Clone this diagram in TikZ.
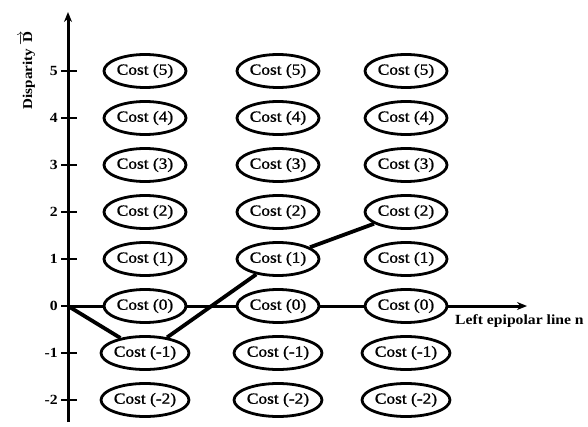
\documentclass[tikz,border=0pt]{standalone}
\usepackage{fontspec}
\setmainfont{Liberation Serif}[FakeStretch=1.12]
\newfontfamily\costfont{Liberation Serif}[FakeStretch=1.12,FakeBold=1.2]
\usetikzlibrary{shapes.geometric,arrows.meta}
\begin{document}
\begin{tikzpicture}[x=1pt,y=1pt,
  costnode/.style={draw,ellipse,line width=2.8pt,minimum width=82pt,minimum height=33pt,inner sep=0pt,font=\costfont\fontsize{15.5}{15.5}\selectfont},
  axisline/.style={line width=3pt},
  pathline/.style={line width=3.8pt},
  ticklab/.style={anchor=east,font=\bfseries\fontsize{14}{14}\selectfont,inner sep=1pt}]
\useasboundingbox (0,0) rectangle (588,426);
\def\xa{68}
% vertical axis
\coordinate (vbot) at (\xa,4);
\coordinate (vtop) at (\xa,414);
\draw[axisline,-{Stealth[length=10pt,width=8pt]}] (vbot) -- (vtop);
\node[rotate=90,font=\bfseries\fontsize{13.5}{13.5}\selectfont] (ylab) at (27,356) {Disparity $\overrightarrow{\mathbf{D}}$};
% ticks and labels
\foreach \k/\lab in {5/5,4/4,3/3,2/2,1/1,0/0,-1/-1,-2/-2}{
  \pgfmathsetmacro{\yy}{426-306+47*\k}
  \coordinate (tl\k) at (\xa-7,\yy);
  \coordinate (tr\k) at (\xa+9,\yy);
  \draw[line width=2.4pt] (tl\k) -- (tr\k);
  \node[ticklab] (lab\k) at (\xa-9,\yy) {\lab};
}
% cost nodes
\foreach \c/\xx in {1/145,2/278,3/406}{
  \foreach \k/\nm in {5/p5,4/p4,3/p3,2/p2,1/p1,0/z,-1/m1,-2/m2}{
    \pgfmathsetmacro{\yy}{426-306+47*\k}
    \node[costnode] (c\c\nm) at (\xx,\yy) {Cost (\k)};
  }
}
% origin and horizontal axis
\coordinate (orig) at (\xa,120);
\coordinate (htip) at (527,120);
\draw[axisline] (orig) -- (c1z);
\draw[axisline] (c1z) -- (c2z);
\draw[axisline] (c2z) -- (c3z);
\draw[axisline,-{Stealth[length=10pt,width=8pt]}] (c3z) -- (htip);
\node[anchor=west,font=\bfseries\fontsize{14}{14}\selectfont,inner sep=0pt] (xlab) at (455,105) {Left epipolar line n};
% optimal path
\draw[pathline] (orig) -- (c1m1);
\draw[pathline] (c1m1) -- (c2p1);
\draw[pathline] (c2p1) -- (c3p2);
\end{tikzpicture}
\end{document}
